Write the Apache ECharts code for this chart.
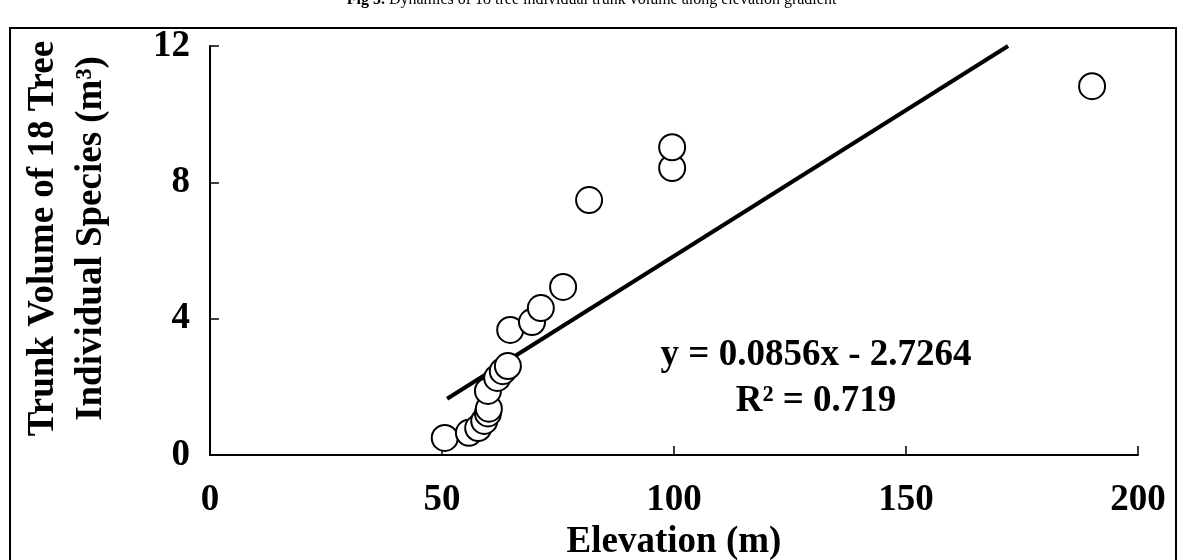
<!DOCTYPE html>
<html>
<head>
<meta charset="utf-8">
<script src="https://cdn.jsdelivr.net/npm/echarts@6/dist/echarts.min.js"></script>
<style>
html,body{margin:0;padding:0;background:#fff;}
#c{width:1183px;height:560px;}
</style>
</head>
<body>
<div id="c"></div>
<script>
// Data
var elevation = [50.6, 55.8, 57.8, 59.1, 59.9, 60.1, 59.9, 61.9, 63.1, 64.2, 64.7, 69.4, 71.3, 76.1, 81.7, 99.6, 99.6, 190.1];
var volume    = [0.50, 0.65, 0.79, 1.00, 1.22, 1.36, 1.88, 2.26, 2.46, 2.61, 3.67, 3.90, 4.31, 4.93, 7.48, 8.42, 9.03, 10.82];
var trendX = [51.1, 172.0];
var trendY = [1.65, 12.0];
var xTicks = [0, 50, 100, 150, 200];
var yTicks = [0, 4, 8, 12];
var titleBold = 'Fig 5.';
var titleRest = ' Dynamics of 18 tree individual trunk volume along elevation gradient';
var eqLine1 = 'y = 0.0856x - 2.7264';
var eqLine2 = 'R\u00B2 = 0.719';
var xName = 'Elevation (m)';
var yName = 'Trunk Volume of 18 Tree\nIndividual Species (m\u00B3)';

var pts = elevation.map(function(x, i){ return [x, volume[i]]; });
var trend = trendX.map(function(x, i){ return [x, trendY[i]]; });
var serif = '"Liberation Serif", "DejaVu Serif", serif';
var FS = 37;

var chart = echarts.init(document.getElementById('c'));
chart.setOption({
  animation: false,
  backgroundColor: '#fff',
  title: {
    text: '{b|' + titleBold + '}{n|' + titleRest + '}',
    left: 'center',
    top: -13,
    textStyle: {
      rich: {
        b: {fontFamily: serif, fontWeight: 'bold', fontSize: 16, color: '#000'},
        n: {fontFamily: serif, fontWeight: 'normal', fontSize: 16, color: '#000'}
      }
    }
  },
  graphic: [
    {type: 'rect', shape: {x: 10, y: 28, width: 1166, height: 560}, style: {fill: 'none', stroke: '#000', lineWidth: 2}, z: 100, silent: true},
    {type: 'text', x: 816, y: 355, style: {text: eqLine1, fontFamily: serif, fontWeight: 'bold', fontSize: FS, fill: '#000', align: 'center', verticalAlign: 'middle'}},
    {type: 'text', x: 816, y: 401, style: {text: eqLine2, fontFamily: serif, fontWeight: 'bold', fontSize: FS, fill: '#000', align: 'center', verticalAlign: 'middle'}}
  ],
  grid: {left: 210, right: 45, top: 46, bottom: 105, containLabel: false, outerBoundsMode: 'none'},
  xAxis: {
    type: 'value', min: 0, max: 200, interval: 50,
    name: xName, nameLocation: 'middle', nameGap: 64,
    nameTextStyle: {fontFamily: serif, fontWeight: 'bold', fontSize: FS, color: '#000'},
    axisLine: {lineStyle: {color: '#000', width: 2}},
    axisTick: {inside: true, length: 9, lineStyle: {color: '#000', width: 1.5}},
    axisLabel: {fontFamily: serif, fontWeight: 'bold', fontSize: FS, color: '#000', margin: 27,
      formatter: function(v){ return xTicks.indexOf(v) >= 0 ? String(v) : ''; }},
    splitLine: {show: false}
  },
  yAxis: {
    type: 'value', min: 0, max: 12, interval: 4,
    name: yName, nameLocation: 'middle', nameGap: 95, nameRotate: 90,
    nameTextStyle: {fontFamily: serif, fontWeight: 'bold', fontSize: FS, color: '#000', lineHeight: 48, padding: [0, 0, 0, 24]},
    axisLine: {show: true, lineStyle: {color: '#000', width: 2}},
    axisTick: {show: true, inside: true, length: 9, lineStyle: {color: '#000', width: 1.5}},
    axisLabel: {fontFamily: serif, fontWeight: 'bold', fontSize: FS, color: '#000', margin: 20,
      formatter: function(v){ return yTicks.indexOf(v) >= 0 ? String(v) : ''; }},
    splitLine: {show: false}
  },
  series: [
    {
      type: 'line', data: trend, symbol: 'none',
      lineStyle: {color: '#000', width: 4}, z: 2
    },
    {
      type: 'scatter', data: pts, symbol: 'circle', symbolSize: 26,
      itemStyle: {color: '#fff', borderColor: '#000', borderWidth: 2, opacity: 1}, z: 3
    }
  ]
});
</script>
</body>
</html>
